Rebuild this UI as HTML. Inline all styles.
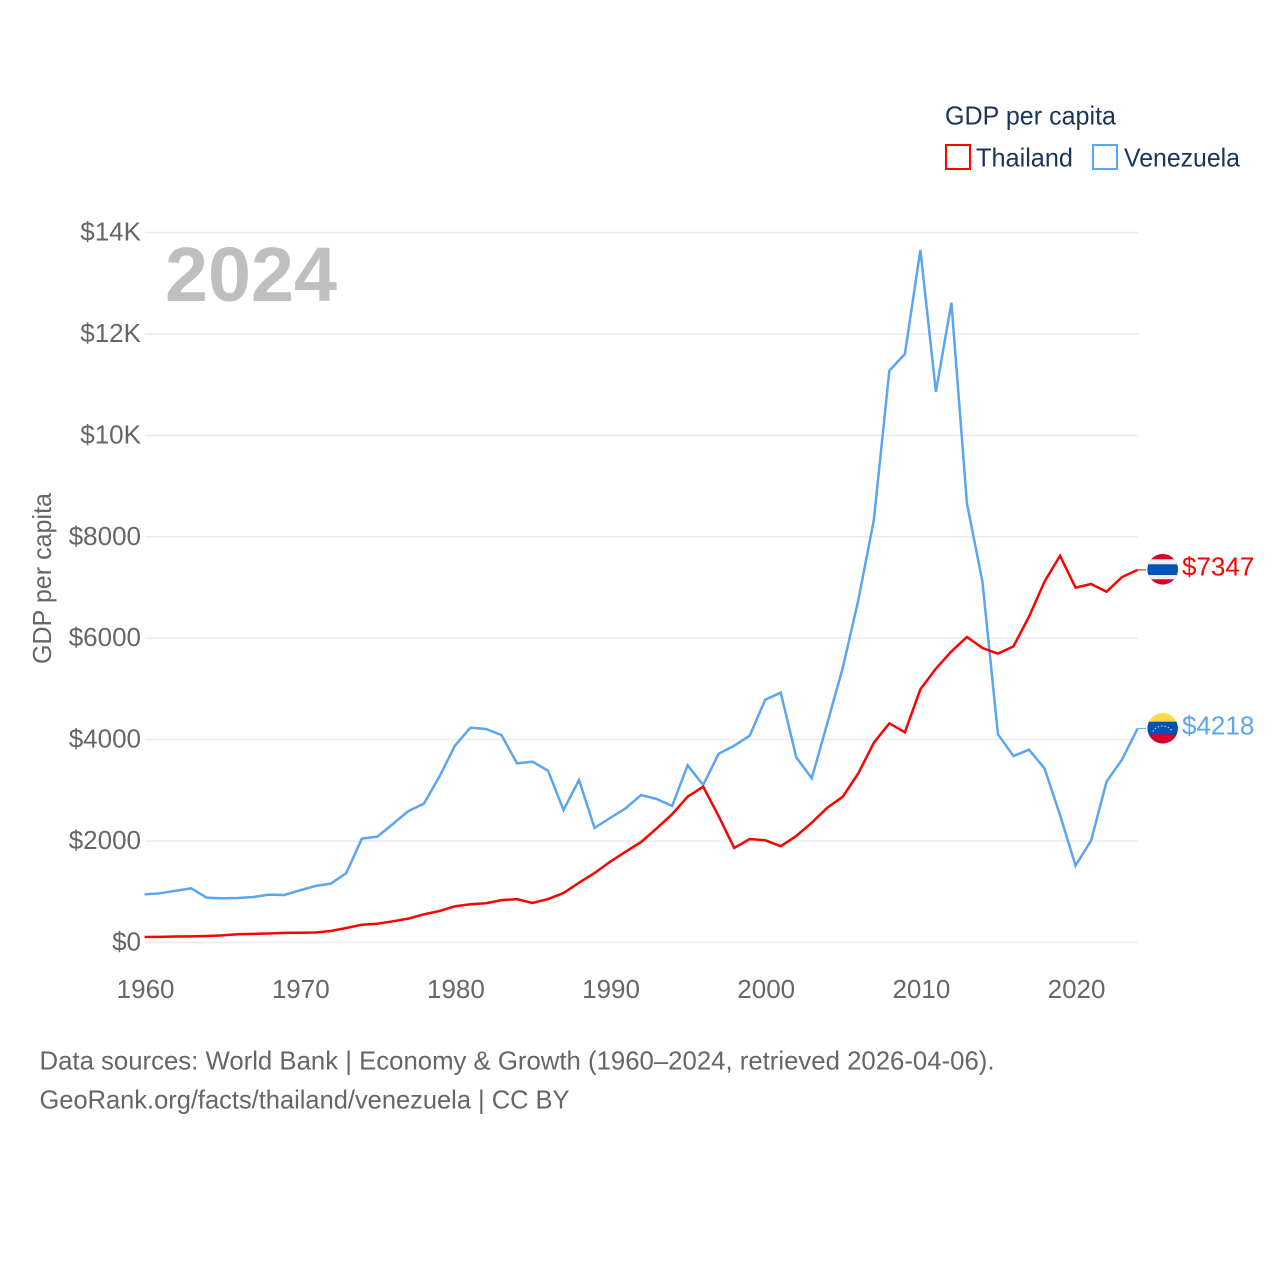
<!DOCTYPE html>
<html lang="en">
<head>
<meta charset="utf-8">
<title>GDP per capita: Thailand vs Venezuela</title>
<style>
html,body{margin:0;padding:0;background:#fff;width:1280px;height:1280px;overflow:hidden}
svg{display:block}
text{font-family:"Liberation Sans",sans-serif}
.tick{font-size:26px;fill:#666}
.foot{font-size:26px;fill:#666}
.leg{font-size:26px;fill:#1a3557}
</style>
</head>
<body>
<svg id="chart" width="1280" height="1280" viewBox="0 0 1280 1280" xmlns="http://www.w3.org/2000/svg">
  <g id="grid"></g>
  <g id="yticks"></g>
  <g id="xticks"></g>
  <text class="tick" transform="translate(51 578.5) rotate(-90)" text-anchor="middle" textLength="171" lengthAdjust="spacingAndGlyphs">GDP per capita</text>
  <text x="165" y="301" font-size="77" font-weight="700" fill="#bfbfbf" textLength="172" lengthAdjust="spacingAndGlyphs">2024</text>

  <g id="series"></g>

  <g>
    <clipPath id="thai-clip"><circle cx="1162.7" cy="569.3" r="15.3"/></clipPath>
    <g clip-path="url(#thai-clip)">
      <rect x="1147" y="554" width="32" height="31" fill="#d80027"/>
      <rect x="1147" y="559.3" width="32" height="20" fill="#eeeeee"/>
      <rect x="1147" y="564.3" width="32" height="10.7" fill="#0052b4"/>
    </g>
  </g>
  <g>
    <clipPath id="ven-clip"><circle cx="1162.7" cy="728.3" r="15.3"/></clipPath>
    <g clip-path="url(#ven-clip)">
      <rect x="1147" y="712.5" width="32" height="9.5" fill="#ffda44"/>
      <rect x="1147" y="721.7" width="32" height="12.8" fill="#0052b4"/>
      <rect x="1147" y="734.3" width="32" height="10" fill="#d80027"/>
    </g>
    <path d="M1153 731.5 A10 8 0 0 1 1172 731.5" fill="none" stroke="#e6eef8" stroke-width="1.2" stroke-dasharray="1.2 2.2"/>
  </g>
  <text id="value-thailand" x="1182" y="575.5" font-size="26" fill="#ff0000"></text>
  <text id="value-venezuela" x="1182" y="734.5" font-size="26" fill="#5ba6ee"></text>

  <g>
    <text class="leg" x="945" y="124.5" textLength="171" lengthAdjust="spacingAndGlyphs">GDP per capita</text>
    <g>
      <rect x="946" y="145" width="24" height="24" fill="#fff" stroke="#ff0000" stroke-width="2"/>
      <text class="leg" x="976" y="166.5" textLength="97" lengthAdjust="spacingAndGlyphs">Thailand</text>
    </g>
    <g>
      <rect x="1093" y="145" width="24" height="24" fill="#fff" stroke="#5ba6ee" stroke-width="2"/>
      <text class="leg" x="1124" y="166.5" textLength="116" lengthAdjust="spacingAndGlyphs">Venezuela</text>
    </g>
  </g>

  <text class="foot" x="39.5" y="1069.5" textLength="955" lengthAdjust="spacingAndGlyphs">Data sources: World Bank | Economy &amp; Growth (1960–2024, retrieved 2026-04-06).</text>
  <text class="foot" x="39.5" y="1108.5" textLength="530" lengthAdjust="spacingAndGlyphs">GeoRank.org/facts/thailand/venezuela | CC BY</text>
</svg>
<script>
const startYear = 1960;
const thailandValues = [108,112,118,120,128,140,163,170,178,190,193,197,227,286,351,370,418,470,556,621,714,755,775,835,855,780,857,975,1180,1370,1590,1790,1980,2250,2530,2875,3072,2490,1864,2040,2015,1899,2100,2362,2658,2875,3336,3940,4322,4145,4992,5400,5740,6024,5807,5695,5840,6424,7115,7627,6996,7069,6917,7207,7347];
const venezuelaValues = [950,970,1020,1068,884,871,878,897,943,937,1028,1114,1160,1370,2047,2087,2337,2593,2738,3270,3880,4236,4210,4092,3533,3565,3388,2613,3204,2258,2455,2646,2908,2830,2692,3494,3106,3723,3880,4078,4788,4926,3652,3238,4322,5420,6753,8330,11275,11604,13655,10860,12615,8660,7115,4105,3677,3802,3434,2514,1515,2008,3171,3612,4218];
const yTickValues = [0,2000,4000,6000,8000,10000,12000,14000];
const yTickLabels = ["$0","$2000","$4000","$6000","$8000","$10K","$12K","$14K"];
const xTickValues = [1960,1970,1980,1990,2000,2010,2020];

const NS = "http://www.w3.org/2000/svg";
function xScale(year){ return 144.6 + (year - 1960) * (1137.6 - 144.6) / (2024 - 1960); }
function yScale(v){ return 942.5 - v * (942.5 - 232.5) / 14000; }
function mk(tag, attrs, parent){
  const el = document.createElementNS(NS, tag);
  for (const k in attrs) el.setAttribute(k, attrs[k]);
  parent.appendChild(el);
  return el;
}

const grid = document.getElementById("grid");
const yticks = document.getElementById("yticks");
const xticks = document.getElementById("xticks");
const seriesG = document.getElementById("series");

yTickValues.forEach(function(v, i){
  const line = mk("line", {x1:145, x2:1138, y1:yScale(v), y2:yScale(v), stroke:"#ebebeb", "stroke-width":1.5}, grid);
  
  
  const t = mk("text", {x:141, y:yScale(v) + 8, "text-anchor":"end", "class":"tick"}, yticks);
  
  
  t.textContent = yTickLabels[i];
});

xTickValues.forEach(function(y){
  const t = mk("text", {x:xScale(y) + 1, y:998, "text-anchor":"middle", "class":"tick"}, xticks);
  
  
  t.textContent = String(y);
});

function points(values){
  return values.map(function(v, i){ return xScale(startYear + i).toFixed(2) + "," + yScale(v).toFixed(2); }).join(" ");
}
function lastY(values){ return yScale(values[values.length - 1]); }

const lineVen = mk("polyline", {points:points(venezuelaValues), fill:"none", stroke:"#5ba6ee", "stroke-width":2.5, "stroke-linejoin":"miter"}, seriesG);


const lineThai = mk("polyline", {points:points(thailandValues), fill:"none", stroke:"#ff0000", "stroke-width":2.5, "stroke-linejoin":"miter"}, seriesG);



const connThai = mk("line", {x1:1138, x2:1146, y1:lastY(thailandValues), y2:lastY(thailandValues), stroke:"#ff0000", "stroke-width":1}, seriesG);


const connVen = mk("line", {x1:1138, x2:1146, y1:lastY(venezuelaValues), y2:lastY(venezuelaValues), stroke:"#5ba6ee", "stroke-width":1}, seriesG);



document.getElementById("value-thailand").textContent = "$" + thailandValues[thailandValues.length - 1];
document.getElementById("value-venezuela").textContent = "$" + venezuelaValues[venezuelaValues.length - 1];
</script>
</body>
</html>
